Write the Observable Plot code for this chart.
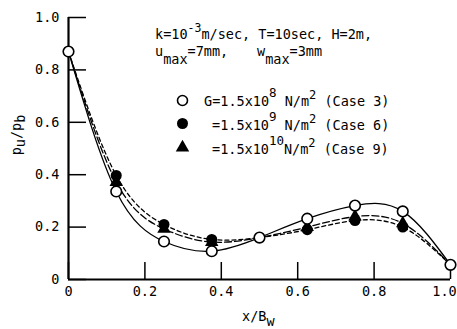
<!DOCTYPE html>
<html><head><meta charset="utf-8">
<script src="https://cdn.jsdelivr.net/npm/d3@7"></script>
<script src="https://cdn.jsdelivr.net/npm/@observablehq/plot@0.6"></script>
<style>
body{margin:0;background:#fff}
svg{font-family:"DejaVu Sans Mono",monospace}
</style>
</head><body><div id="chart"></div>
<script>
// x / B_w positions of the measurement points
const xPos = [0, 0.125, 0.25, 0.375, 0.5, 0.625, 0.75, 0.875, 1.0];
// p_u / p_b values
const case3 = [0.87, 0.336, 0.145, 0.108, 0.16, 0.232, 0.282, 0.26, 0.056]; // G=1.5x10^8
const case6 = [0.87, 0.397, 0.21, 0.153, 0.16, 0.19, 0.225, 0.2, 0.056];     // G=1.5x10^9
const case9 = [0.87, 0.372, 0.193, 0.143, 0.16, 0.2, 0.24, 0.214, 0.056];    // G=1.5x10^10
const xTicks = [0, 0.2, 0.4, 0.6, 0.8, 1.0];
const xTickLabels = ["0", "0.2", "0.4", "0.6", "0.8", "1.0"];
const yTicks = [0, 0.2, 0.4, 0.6, 0.8, 1.0];
const yTickLabels = ["0", "0.2", "0.4", "0.6", "0.8", "1.0"];

const pts = (arr) => xPos.map((x, i) => ({x, y: arr[i], same: arr[i] === case3[i]}));
const d3s = pts(case3), d6 = pts(case6), d9 = pts(case9);
const xLast = xTicks[xTicks.length - 1];

const FS = 13.5;
const chart = Plot.plot({
  width: 457, height: 329,
  marginLeft: 68, marginRight: 7, marginTop: 17, marginBottom: 50,
  style: {fontFamily: '"DejaVu Sans Mono", monospace', fontSize: FS + "px", color: "#000", background: "#fff"},
  x: {domain: [0, 1]},
  y: {domain: [0, 1]},
  marks: [
    Plot.axisY({ticks: yTicks, tickSize: -18, tickFormat: () => "", label: null, strokeWidth: 1.5}),
    Plot.axisY({ticks: yTicks, tickSize: 0, tickPadding: 9, tickFormat: d => yTickLabels[yTicks.indexOf(d)], label: null}),
    Plot.axisX({ticks: xTicks, tickSize: -17, tickFormat: () => "", label: null, strokeWidth: 1.5}),
    Plot.axisX({ticks: xTicks.filter(d => d !== xLast), tickSize: 0, tickPadding: 7, tickFormat: d => xTickLabels[xTicks.indexOf(d)], label: null}),
    Plot.axisX({ticks: [xLast], tickSize: 0, tickPadding: 7, dx: -6, tickFormat: d => xTickLabels[xTicks.indexOf(d)], label: null}),
    Plot.ruleX([0], {stroke: "#000", strokeWidth: 2.2}),
    Plot.ruleY([0], {stroke: "#000", strokeWidth: 2.2}),
    Plot.line(d3s, {x: "x", y: "y", curve: "natural", stroke: "#000", strokeWidth: 1.3}),
    Plot.line(d9, {x: "x", y: "y", curve: "natural", stroke: "#000", strokeWidth: 1.3, strokeDasharray: "7,3"}),
    Plot.line(d6, {x: "x", y: "y", curve: "natural", stroke: "#000", strokeWidth: 1.3, strokeDasharray: "4,3"}),
    Plot.dot(d9, {x: "x", y: "y", filter: d => !d.same, symbol: "triangle", r: 5, fill: "#000", stroke: "none"}),
    Plot.dot(d6, {x: "x", y: "y", filter: d => !d.same, r: 5.5, fill: "#000", stroke: "none"}),
    Plot.dot(d3s, {x: "x", y: "y", r: 5.3, fill: "#fff", stroke: "#000", strokeWidth: 1.6}),
    // legend markers
    Plot.dot([0], {frameAnchor: "top-left", dx: 114, dy: 83, r: 5, fill: "#fff", stroke: "#000", strokeWidth: 1.6}),
    Plot.dot([0], {frameAnchor: "top-left", dx: 114, dy: 106, r: 5.5, fill: "#000", stroke: "none"}),
    Plot.dot([0], {frameAnchor: "top-left", dx: 114, dy: 130, symbol: "triangle", r: 5, fill: "#000", stroke: "none"})
  ]
});
document.getElementById("chart").appendChild(chart);

const svg = d3.select(chart);
function label(x, y, parts, rotate) {
  const t = svg.append("text").attr("x", x).attr("y", y)
    .attr("font-size", FS).attr("fill", "#000").attr("text-anchor", "start")
    .attr("font-family", '"DejaVu Sans Mono", monospace');
  if (rotate) t.attr("transform", `rotate(-90 ${x} ${y})`).attr("text-anchor", "middle");
  let cur = 0;
  for (const p of parts) {
    const off = p.off || 0;
    const ts = t.append("tspan").attr("dy", off - cur).text(p.t);
    if (p.size) ts.attr("font-size", p.size);
    cur = off;
  }
  return t;
}
// annotation
label(155, 39, [{t: "k=10"}, {t: "-3", off: -7, size: 11.5}, {t: "m/sec, T=10sec, H=2m,"}]);
label(155, 56, [{t: "u"}, {t: "max", off: 8}, {t: "=7mm,"}]);
label(257, 56, [{t: "w"}, {t: "max", off: 8}, {t: "=3mm"}]);
// legend
label(204, 106, [{t: "G=1.5x10"}, {t: "8", off: -9, size: 12.5}, {t: " N/m"}, {t: "2", off: -7, size: 12}, {t: " (Case 3)"}]);
label(212, 130, [{t: "=1.5x10"}, {t: "9", off: -9, size: 12.5}, {t: " N/m"}, {t: "2", off: -7, size: 12}, {t: " (Case 6)"}]);
label(212, 154, [{t: "=1.5x10"}, {t: "10", off: -9, size: 12.5}, {t: "N/m"}, {t: "2", off: -7, size: 12}, {t: " (Case 9)"}]);
// axis labels
label(242, 321, [{t: "x/B"}, {t: "w", off: 5}]);
label(21, 135, [{t: "p"}, {t: "u", off: 4}, {t: "/p"}, {t: "b", off: 4}], true);
svg.selectAll("text").attr("xml:space", "preserve").style("white-space", "pre");
</script>
</body></html>
